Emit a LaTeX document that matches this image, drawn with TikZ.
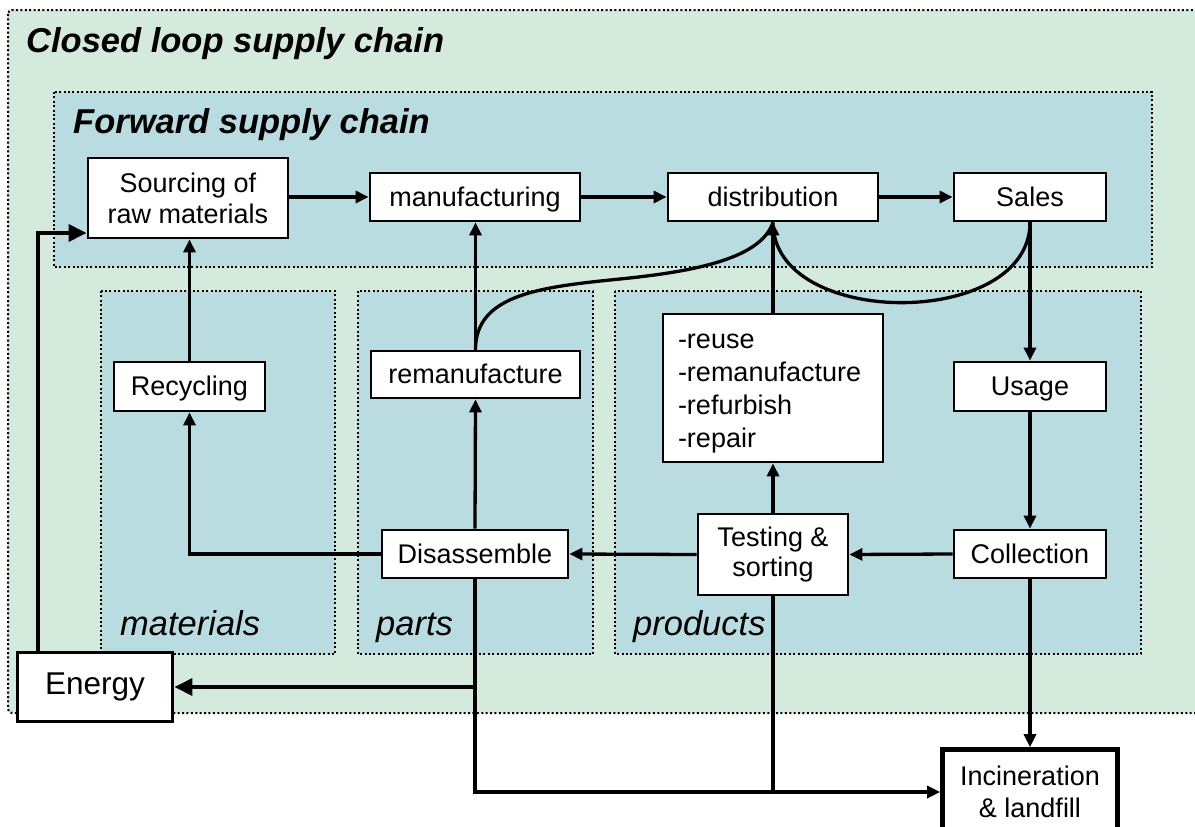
\documentclass[tikz,border=0pt]{standalone}
\usepackage{fontspec}
\setmainfont{Liberation Sans}
\usetikzlibrary{arrows.meta}
\definecolor{loopgreen}{RGB}{212,234,220}
\definecolor{chainblue}{RGB}{184,220,224}

\begin{document}
\begin{tikzpicture}[x=1pt,y=-1pt,
  dotframe/.style={draw=black, line width=2pt, dash pattern=on 2pt off 2.4pt},
  group/.style={dotframe, fill=chainblue},
  box/.style={draw=black, fill=white, line width=2.8pt, inner sep=0pt,
    font=\fontsize{27}{31}\selectfont, align=center},
  oneline/.style={box, text height=21pt, text depth=3pt},
  flow/.style={line width=3.3pt, -{Triangle[length=13pt,width=12pt]}},
  bigflow/.style={line width=3.3pt, -{Triangle[length=18pt,width=17pt]}},
  plain/.style={line width=3.3pt},
  title/.style={font=\fontsize{34.5}{40}\selectfont\bfseries\itshape, anchor=base west, inner sep=0pt},
  tag/.style={font=\fontsize{34.5}{40}\selectfont\itshape, anchor=base west, inner sep=0pt}
]
\clip (0,0) rectangle (1195,827);
\fill[white] (0,0) rectangle (1195,827);

% closed loop and its sub-areas
\draw[dotframe, fill=loopgreen, rounded corners=4pt] (8,10) rectangle (1220,713);
\draw[group] (54,92) rectangle (1152,267);
\draw[group] (101,291) rectangle (335,654);
\draw[group] (358,291) rectangle (593,654);
\draw[group] (615,291) rectangle (1141,654);

\node[title] (cltitle) at (26,52) {Closed loop supply chain};
\node[title] (fwtitle) at (73,133) {Forward supply chain};
\node[tag] (mattag) at (120,635) {materials};
\node[tag] (parttag) at (376,635) {parts};
\node[tag] (prodtag) at (633,635) {products};

% process steps
\node[box, minimum width=200pt, minimum height=80pt] (src) at (188,198) {Sourcing of\\raw materials};
\node[oneline, minimum width=210pt, minimum height=48pt] (man) at (475,197) {manufacturing};
\node[oneline, minimum width=210pt, minimum height=48pt] (dist) at (773,197) {distribution};
\node[oneline, minimum width=152pt, minimum height=48pt] (sales) at (1030,197) {Sales};
\node[oneline, minimum width=151pt, minimum height=49pt] (rec) at (189.5,386.5) {Recycling};
\node[oneline, minimum width=209pt, minimum height=47pt] (reman) at (475.5,374.5) {remanufacture};
\node[box, minimum width=220pt, minimum height=148pt, text width=190pt, align=left,
  font=\fontsize{27}{33}\selectfont] (reuse) at (773,388)
  {\rule{0pt}{25pt}-reuse\\-remanufacture\\-refurbish\\-repair};
\node[oneline, minimum width=152pt, minimum height=49pt] (usage) at (1030,386.5) {Usage};
\node[oneline, minimum width=186pt, minimum height=48pt] (disas) at (475,554) {Disassemble};
\node[box, minimum width=150pt, minimum height=81pt, font=\fontsize{27}{30}\selectfont] (test) at (773,554.5) {Testing \&\\sorting};
\node[oneline, minimum width=152pt, minimum height=48pt] (coll) at (1030,554) {Collection};
\node[box, line width=3.8pt, minimum width=155pt, minimum height=69pt,
  font=\fontsize{31.5}{36}\selectfont] (energy) at (95,687) {Energy};
\node[box, line width=4.6pt, minimum width=175pt, minimum height=85pt,
  font=\fontsize{27}{32}\selectfont] (incin) at (1030,792) {Incineration\\\& landfill};

\coordinate (etop) at (38,651);
\coordinate (bend) at (620,279);

% forward flow
\draw[flow] (src.east |- man.west) -- (man.west);
\draw[flow] (man.east) -- (dist.west);
\draw[flow] (dist.east) -- (sales.west);
\draw[flow] (sales.south) -- (usage.north);
\draw[flow] (usage.south) -- (coll.north);

% reverse flow
\draw[flow] (coll.west) -- (test.east);
\draw[flow] (test.west) -- (disas.east);
\draw[flow] (test.north) -- (reuse.south);
\draw[flow] (reuse.north) -- (dist.south);
\draw[flow] (disas.north) -- (reman.south);
\draw[flow] (reman.north) -- (reman.north |- man.south);
\draw[flow] (disas.west) -| (rec.south);
\draw[flow] (rec.north) -- (rec.north |- src.south);
\draw[plain] (reman.north) .. controls +(0,-55) and +(-80,8) .. (bend)
  .. controls +(80,-8) and +(-12,35) .. (dist.south);
\draw[plain] (sales.south) .. controls +(0,107) and +(0,107) .. (dist.south);

% energy recovery and disposal
\draw[bigflow] (etop) |- ([yshift=-35pt]src.west);
\draw[bigflow] (disas.south |- energy.east) -- (energy.east);
\draw[flow] (disas.south) |- (incin.west);
\draw[plain] (test.south) -- (test.south |- incin.west);
\draw[flow] (coll.south) -- (incin.north);
\end{tikzpicture}
\end{document}
